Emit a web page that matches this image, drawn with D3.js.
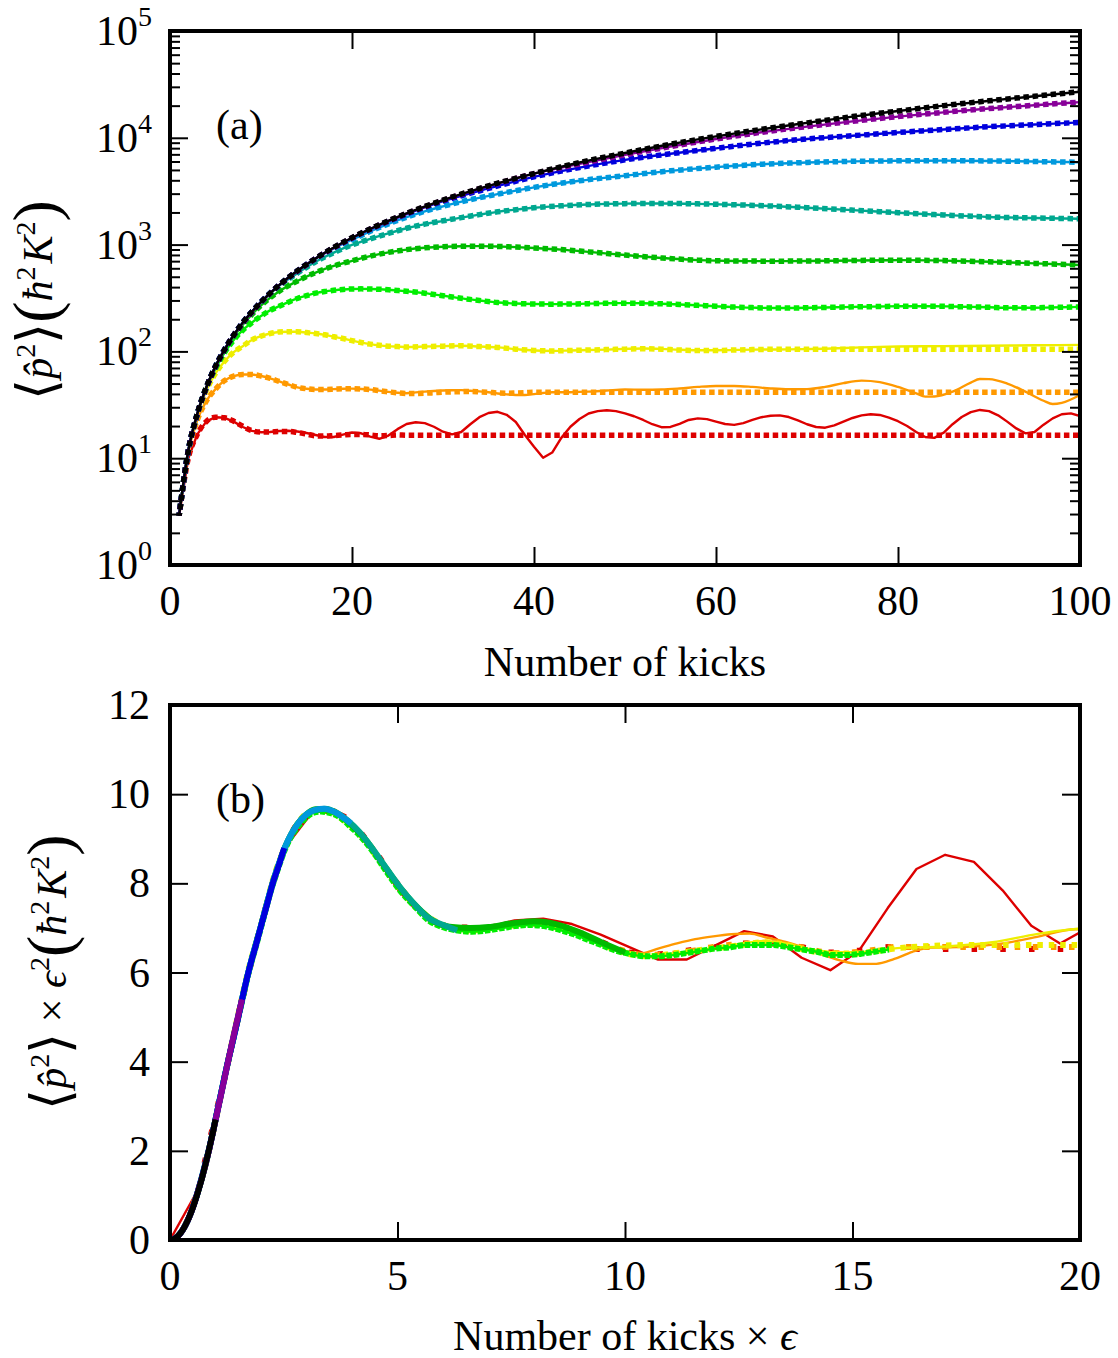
<!DOCTYPE html>
<html><head><meta charset="utf-8">
<script src="https://cdn.jsdelivr.net/npm/d3@7/dist/d3.min.js"></script>
<style>
html,body{margin:0;padding:0;background:#fff;}
svg{display:block;}
text{font-family:"Liberation Serif","Times New Roman",Times,serif;fill:#000;}
</style></head><body>
<div id="chart"></div>
<script>
// ---------------- data ----------------
const seriesColors = ["#dd0000","#ff9900","#eeee00","#00ee00","#00bb00","#00a890","#0099dd","#0000dd","#880099","#000000"];
const epsilonValues = [0.631,0.398,0.251,0.158,0.1,0.0631,0.0398,0.0251,0.0158,0.01];

const xTicksA = [0,20,40,60,80,100];
const yDecadesA = [0,1,2,3,4,5];
const xTicksB = [0,5,10,15,20];
const yTicksB = [0,2,4,6,8,10,12];

// red (epsilon 0.631)
const redTheoryKicks = [1,2,3,4,5,6,7,8,9,10,11,12,13,14,15,16,17,18,19,20,21,22,23,24,25,26,30,40,50,60,70,80,90,100];
const redTheory = [2.9,9.9,16.7,22.1,24.2,23.9,22.2,19.9,18.1,17.6,17.6,17.8,17.8,17.4,16.8,16.2,16.1,16.3,16.5,16.7,16.7,16.5,16.2,16.3,16.5,16.4,16.4,16.4,16.4,16.4,16.4,16.4,16.4,16.4];
const redSimKicks = d3.range(0,101);
const redSim = [0,2.9,9.9,16.7,22.1,24.2,23.9,22.0,19.6,18.0,17.5,
  17.6,18.0,18.1,17.8,17.2,16.5,15.8,15.8,16.6,17.4,
  17.1,15.9,15.2,16.3,18.7,20.9,21.7,21.3,19.7,17.7,
  16.7,17.6,20.8,24.2,26.5,27.2,25.5,21.8,16.5,12.8,
  10.1,11.3,15.5,19.7,23.3,26.2,27.6,28.1,27.6,26.3,
  24.7,22.8,20.8,19.5,19.6,21.0,22.8,23.6,23.2,22.0,
  20.9,20.5,21.3,22.8,24.2,25.0,25.2,24.3,22.6,20.8,
  19.6,19.3,20.3,22.0,23.8,25.2,25.8,25.4,24.0,22.2,
  20.0,17.6,15.8,15.5,17.3,20.8,24.3,27.0,28.3,27.6,
  25.2,22.0,19.0,17.1,17.6,20.6,23.6,25.8,26.3,24.8];

// orange (epsilon 0.398)
const orangeTheoryKicks = [1,2,3,4,5,6,7,8,9,10,11,12,13,14,15,16,17,18,19,20,21,22,23,24,25,26,27,28,29,30,31,32,33,34,35,36,37,38,39,40,50,60,70,80,90,100];
const orangeTheory = [2.9,11.1,22.7,34.4,44.3,53.3,58.7,60.8,60.7,58.8,56.0,52.3,49.0,46.1,44.7,44.0,44.0,44.3,44.7,44.8,44.5,43.9,42.9,41.8,41.0,40.4,40.4,40.6,41.0,41.5,41.8,42.0,42.1,41.8,41.4,40.8,40.6,40.8,41.1,41.5,41.5,41.4,41.4,41.4,41.4,41.4];
const orangeSimKicks = [0,1,2,3,4,5,6,7,8,9,10,11,12,13,14,15,16,17,18,19,20,21,22,23,24,25,26,27,28,29,30,31,32,33,34,35,36,37,38,39,40,41,42,44,46,48,50,52,54,56,58,60,62,64,66,68,70,72,74,76,78,80,82,83,84,86,88,89,90,92,94,96,97,98,100];
const orangeSim = [0,2.9,11.1,22.7,34.4,44.3,53.3,58.7,60.8,60.7,58.8,56.0,52.3,49.0,46.1,44.7,44.0,44.0,44.3,44.7,44.8,44.5,43.9,42.9,41.8,41.0,40.6,41.3,42.0,42.6,43.0,43.3,43.4,42.8,42.2,41.4,40.4,39.6,39.1,39.1,39.8,40.8,41.4,
  41.5,42.0,43.0,44.0,43.8,44.0,45.0,46.5,47.5,47.5,46.5,45.0,44.2,44.3,46.5,50.5,53.2,51.5,46.5,40.5,
  37.7,37.8,42.0,51.0,55.2,55.0,50.0,42.0,34.5,32.2,33.0,39.1];

// yellow (epsilon 0.251)
const yellowTheoryKicks = [1,2,3,4,5,6,7,8,9,10,11,12,13,14,15,16,17,18,19,20,21,22,23,24,25,26,28,30,32,34,36,38,40,42,44,46,48,50,52,54,56,58,60,62,64,70,80,90,100];
const yellowTheory = [2.9,11.6,25.4,43.1,62.3,80.8,98.3,112,128,139,147,152,153,153,150,147,143,137,132,126,121,117,114,112,111,110,111,112,113,111,109,105,102,101,102,103,104,105,106,105,103,102,102,103,104,105,105,105,105];
const yellowSimKicks = [1,2,3,4,5,6,7,8,9,10,11,12,13,14,15,16,17,18,19,20,21,22,23,24,25,26,28,30,32,34,36,38,40,42,44,46,48,50,52,54,56,58,60,64,68,72,76,80,85,90,95,100];
const yellowSim = [2.9,11.6,25.4,43.1,62.3,80.8,98.3,112,128,139,147,152,153,153,150,147,143,137,132,126,121,117,114,112,111,110,111,112,113,111,109,105,102,101,102,103,104,105.5,106.5,105.5,103.5,102.5,102.5,104,104.5,106,109,111,112,113,114,115];

// light green (epsilon 0.158)
const lightGreenKicks = [1,2,3,4,5,6,7,8,9,10,11,12,13,14,15,16,17,18,19,20,21,22,23,24,25,26,28,30,32,34,36,38,40,42,44,46,48,50,52,54,56,58,60,62,64,66,68,70,72,74,76,78,80,82,84,86,88,90,92,94,96,98,100];
const lightGreenValues = [2.9,11.5,26,46,69,97.5,128,158,186,214,242,265,289,313,333,351,364,373,380,384,385,384,382,378,372,366,351,332,314,300,287,281,278,277,278,280,282,283,282,279,275,270,265,260,257,255,255,256,258,260,262,263,265,265,265,263,261,259,256,256,257,259,261];

// green (epsilon 0.1)
const greenKicks = [1,2,3,4,5,6,7,8,9,10,12,14,16,18,20,22,24,26,28,30,32,34,36,38,40,43,46,50,54,58,62,66,70,75,80,85,90,95,100];
const greenValues = [2.9,11.6,26,46,72,103,138,178,222,270,366,456,547,631,705,780,845,897,933,955,966,967,961,948,930,898,855,798,750,715,702,700,702,710,715,708,690,667,645];

// teal (epsilon 0.0631)
const tealKicks = [1,2,3,4,5,6,7,8,10,12,14,16,18,20,22,24,26,28,30,32,34,36,38,40,43,46,50,54,58,62,66,70,75,80,85,90,95,100];
const tealValues = [2.9,11.6,26,46,72.6,105,142,186,290,412,540,691,842,992,1131,1273,1422,1555,1670,1789,1909,2027,2123,2211,2306,2374,2419,2429,2407,2361,2298,2216,2103,1990,1894,1814,1776,1745];

// light blue (epsilon 0.0398)
const lightBlueKicks = [1,2,3,4,5,6,7,8,10,12,14,16,18,20,22,24,26,28,30,33,36,40,45,50,55,60,65,70,75,80,85,90,95,100];
const lightBlueValues = [2.9,11.6,26,46,72.5,104,142,185,290,418,568,741,921,1111,1331,1565,1805,2051,2284,2637,2966,3433,3963,4417,4903,5313,5650,5875,6020,6089,6108,6070,5994,5900];

// blue, purple, black (epsilon 0.0251, 0.0158, 0.01)
const smallEpsKicks = [1,2,3,4,5,6,7,8,10,12,14,16,18,20,23,26,30,35,40,45,50,55,60,65,70,75,80,85,90,95,100];
const blueValues = [2.9,11.6,26,46,72.5,104,142,186,290,417,567,740,935,1154,1522,1934,2552,3360,4311,5262,6213,7085,7970,8908,9750,10461,11222,11950,12700,13300,13950];
const purpleValues = [2.9,11.6,26,46,72,104,142,184,289,417,565,740,932,1154,1525,1950,2596,3531,4618,5693,6927,8280,9753,11266,12739,14252,15805,17317,18790,20184,21600];
const blackValues = [2.9,11.6,26.1,46.4,72.5,104,142,186,290,418,568,742,940,1160,1534,1960,2610,3550,4620,5870,7200,8700,10300,12000,13800,15800,17800,20000,22200,24500,27000];

// ---------------- build ----------------
const seriesList = [
  {kT:redTheoryKicks, vT:redTheory, kS:redSimKicks, vS:redSim, linear:true},
  {kT:orangeTheoryKicks, vT:orangeTheory, kS:orangeSimKicks, vS:orangeSim},
  {kT:yellowTheoryKicks, vT:yellowTheory, kS:yellowSimKicks, vS:yellowSim},
  {kT:lightGreenKicks, vT:lightGreenValues},
  {kT:greenKicks, vT:greenValues},
  {kT:tealKicks, vT:tealValues},
  {kT:lightBlueKicks, vT:lightBlueValues},
  {kT:smallEpsKicks, vT:blueValues},
  {kT:smallEpsKicks, vT:purpleValues},
  {kT:smallEpsKicks, vT:blackValues}
].map((s,i)=>Object.assign(s,{color:seriesColors[i], eps:epsilonValues[i]}));

const W=1118,H=1358;
const svg=d3.select("#chart").append("svg").attr("width",W).attr("height",H)
  .attr("font-family","'Liberation Serif','Times New Roman',Times,serif");
const A={l:170,r:1080,t:31,b:565};
const B={l:170,r:1080,t:705,b:1240};
const xA=d3.scaleLinear().domain([0,100]).range([A.l,A.r]);
const yA=d3.scaleLog().domain([1,1e5]).range([A.b,A.t]);
const xB=d3.scaleLinear().domain([0,20]).range([B.l,B.r]);
const yB=d3.scaleLinear().domain([0,12]).range([B.b,B.t]);

const defs=svg.append("defs");
[["clipA",A],["clipB",B]].forEach(([id,P])=>{
  defs.append("clipPath").attr("id",id).append("rect")
    .attr("x",P.l).attr("y",P.t).attr("width",P.r-P.l).attr("height",P.b-P.t);
});

const gA=svg.append("g").attr("clip-path","url(#clipA)");
const gB=svg.append("g").attr("clip-path","url(#clipB)");
const SQ=5.5, LW=2.4;
const stepA = xA(1)-xA(0);

seriesList.forEach(s=>{
  const th = s.kT.map((k,i)=>({k, v:s.vT[i]}));
  const sim = s.kS ? s.kS.map((k,i)=>({k, v:s.vS[i]})) : th;
  const simCurve = s.linear ? d3.curveLinear : d3.curveMonotoneX;
  // panel (a)
  const lineA = c => d3.line().x(d=>xA(d.k)).y(d=>yA(d.v)).curve(c);
  gA.append("path").datum(sim.filter(d=>d.v>0)).attr("d",lineA(simCurve))
    .attr("fill","none").attr("stroke",s.color).attr("stroke-width",LW).attr("stroke-linejoin","round");
  gA.append("path").datum(th).attr("d",lineA(d3.curveMonotoneX))
    .attr("fill","none").attr("stroke",s.color).attr("stroke-width",SQ)
    .attr("stroke-dasharray",`${SQ},${(stepA-SQ).toFixed(2)}`).attr("stroke-dashoffset",SQ/2);
  // panel (b): scaled kicks and scaled momentum
  const e2 = s.eps*s.eps;
  const lineB = c => d3.line().x(d=>xB(d.k*s.eps)).y(d=>yB(d.v*e2)).curve(c);
  gB.append("path").datum(sim).attr("d",lineB(simCurve))
    .attr("fill","none").attr("stroke",s.color).attr("stroke-width",LW).attr("stroke-linejoin","round");
  const stepB = xB(s.eps)-xB(0);
  const pB = gB.append("path").datum(th).attr("d",lineB(d3.curveMonotoneX))
    .attr("fill","none").attr("stroke",s.color).attr("stroke-width",SQ+0.5);
  if (stepB-SQ > 1.2) pB.attr("stroke-dasharray",`${SQ},${(stepB-SQ).toFixed(2)}`).attr("stroke-dashoffset",SQ/2);
});

// ---------------- axes ----------------
function styleAxis(g){ g.select(".domain").remove(); g.selectAll("line").attr("stroke","#000").attr("stroke-width",2); g.selectAll("text").remove(); }
const majorA = yDecadesA.map(d=>Math.pow(10,d));
const minorA = [];
yDecadesA.slice(0,-1).forEach(d=>{ for(let m=2;m<=9;m++) minorA.push(m*Math.pow(10,d)); });

svg.append("g").attr("transform",`translate(${A.l},0)`).call(d3.axisLeft(yA).tickValues(majorA).tickSize(-18)).call(styleAxis);
svg.append("g").attr("transform",`translate(${A.l},0)`).call(d3.axisLeft(yA).tickValues(minorA).tickSize(-10)).call(styleAxis);
svg.append("g").attr("transform",`translate(${A.r},0)`).call(d3.axisRight(yA).tickValues(majorA).tickSize(-18)).call(styleAxis);
svg.append("g").attr("transform",`translate(${A.r},0)`).call(d3.axisRight(yA).tickValues(minorA).tickSize(-10)).call(styleAxis);
svg.append("g").attr("transform",`translate(0,${A.b})`).call(d3.axisBottom(xA).tickValues(xTicksA).tickSize(-18)).call(styleAxis);
svg.append("g").attr("transform",`translate(0,${A.t})`).call(d3.axisTop(xA).tickValues(xTicksA).tickSize(-18)).call(styleAxis);

svg.append("g").attr("transform",`translate(${B.l},0)`).call(d3.axisLeft(yB).tickValues(yTicksB).tickSize(-18)).call(styleAxis);
svg.append("g").attr("transform",`translate(${B.r},0)`).call(d3.axisRight(yB).tickValues(yTicksB).tickSize(-18)).call(styleAxis);
svg.append("g").attr("transform",`translate(0,${B.b})`).call(d3.axisBottom(xB).tickValues(xTicksB).tickSize(-18)).call(styleAxis);
svg.append("g").attr("transform",`translate(0,${B.t})`).call(d3.axisTop(xB).tickValues(xTicksB).tickSize(-18)).call(styleAxis);

// frames
[A,B].forEach(P=>svg.append("rect").attr("x",P.l).attr("y",P.t).attr("width",P.r-P.l).attr("height",P.b-P.t)
  .attr("fill","none").attr("stroke","#000").attr("stroke-width",4));

// tick labels
const FS=42;
svg.append("g").selectAll("text").data(xTicksA).join("text")
  .attr("x",d=>xA(d)).attr("y",A.b+50).attr("text-anchor","middle").attr("font-size",FS).text(d=>d);
svg.append("g").selectAll("text").data(yDecadesA).join("text")
  .attr("x",152).attr("y",d=>yA(Math.pow(10,d))+14).attr("text-anchor","end").attr("font-size",FS)
  .each(function(d){ const t=d3.select(this); t.append("tspan").text("10"); t.append("tspan").attr("font-size",28).attr("dy",-19).text(d); });
svg.append("g").selectAll("text").data(xTicksB).join("text")
  .attr("x",d=>xB(d)).attr("y",B.b+50).attr("text-anchor","middle").attr("font-size",FS).text(d=>d);
svg.append("g").selectAll("text").data(yTicksB).join("text")
  .attr("x",150).attr("y",d=>yB(d)+14).attr("text-anchor","end").attr("font-size",FS).text(d=>d);

// axis titles
svg.append("text").attr("x",(A.l+A.r)/2).attr("y",676).attr("text-anchor","middle").attr("font-size",FS).text("Number of kicks");
const xtB = svg.append("text").attr("x",(B.l+B.r)/2).attr("y",1350).attr("text-anchor","middle").attr("font-size",FS);
xtB.append("tspan").text("Number of kicks \u00d7 ");
xtB.append("tspan").attr("font-style","italic").text("\u03f5");

function yTitle(x,y,withEps){
  const t=svg.append("text").attr("transform",`translate(${x},${y}) rotate(-90)`).attr("text-anchor","middle").attr("font-size",FS);
  t.append("tspan").attr("font-size",54).attr("dy",3).text("\u27e8");
  t.append("tspan").attr("font-style","italic").attr("dy",-3).text("p\u0302");
  t.append("tspan").attr("font-size",28).attr("dy",-17).text("2");
  t.append("tspan").attr("font-size",54).attr("dy",20).text("\u27e9");
  if(withEps){
    t.append("tspan").attr("dy",-3).text(" \u00d7 ");
    t.append("tspan").attr("font-style","italic").text("\u03f5");
    t.append("tspan").attr("font-size",28).attr("dy",-17).text("2");
    t.append("tspan").attr("font-size",64).attr("dy",22).text("(");
  } else {
    t.append("tspan").attr("font-size",64).attr("dy",2).text("(");
  }
  t.append("tspan").attr("font-style","italic").attr("dy",-5).text("\u0127");
  t.append("tspan").attr("font-size",28).attr("dy",-17).text("2");
  t.append("tspan").attr("font-style","italic").attr("dx",3).attr("dy",17).text("K");
  t.append("tspan").attr("font-size",28).attr("dy",-17).text("2");
  t.append("tspan").attr("font-size",64).attr("dy",22).text(")");
}
yTitle(52,300,false);
yTitle(66,972,true);

// panel letters
svg.append("text").attr("x",216).attr("y",139).attr("font-size",FS).text("(a)");
svg.append("text").attr("x",216).attr("y",813).attr("font-size",FS).text("(b)");
</script>
</body></html>
